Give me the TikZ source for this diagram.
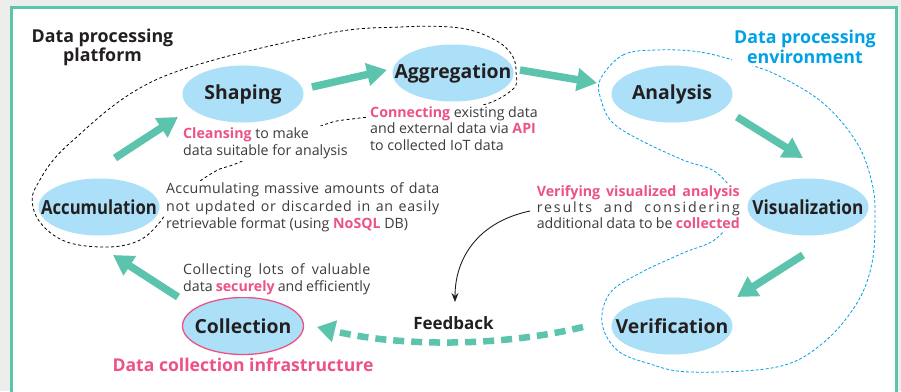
\documentclass[tikz,border=0pt]{standalone}
\usepackage{fontspec}
\usepackage{graphicx}
\setmainfont{Open Sans}
\usetikzlibrary{shapes.geometric,arrows.meta}
\definecolor{flowteal}{HTML}{5CC4AD}
\definecolor{bubblefill}{HTML}{ABE0F8}
\definecolor{hotpink}{HTML}{EC5285}
\definecolor{envcyan}{HTML}{00A0E6}
\definecolor{inkdark}{HTML}{231F20}
\definecolor{notegray}{HTML}{3C3C3C}
\definecolor{pagegray}{HTML}{EDEDEB}
\newcommand\pk[1]{{\color{hotpink}\bfseries #1}}
\newcommand\bubtext[1]{\makebox[0pt]{#1}}
\newcommand\spacedline[3]{\makebox[#1][s]{\addfontfeature{LetterSpace=#2}#3}}
\begin{document}
\begin{tikzpicture}[x=1pt,y=-1pt,
 bubble/.style={ellipse, fill=bubblefill, minimum width=121pt, minimum height=57pt, inner sep=0pt, text=inkdark, font=\bfseries\fontsize{19.4}{22}\selectfont},
 flow/.style={draw=flowteal, line width=7.5pt, -{Triangle[length=20pt,width=22pt]}},
 note/.style={fill=white, inner sep=2pt, text=notegray, font=\fontsize{14.2}{17}\selectfont, align=left},
 title/.style={text=inkdark, font=\bfseries\fontsize{17.8}{19.5}\selectfont, align=center},
 platline/.style={draw=black, line width=0.8pt, dash pattern=on 3pt off 2.5pt},
 envline/.style={draw=envcyan, line width=0.8pt, dash pattern=on 3pt off 2pt},
]
\useasboundingbox (0,0) rectangle (901,391);
\clip (0,0) rectangle (901,391);
\fill[pagegray] (0,0) rectangle (901,391);
\draw[draw=flowteal, line width=3.3pt, fill=white] (11.7,7.5) rectangle (896.2,430);

% dashed group outlines
\draw[platline] plot[smooth cycle, tension=0.6] coordinates {
 (512,90) (470,108) (360,118) (318,127) (240,162) (214,172) (175,200) (160,222)
 (140,240) (110,247) (70,243) (45,228) (33,207) (37,185) (70,143) (160,78)
 (320,35) (400,27) (460,28) (495,40) (512,55) (516,72)};
\draw[envline] plot[smooth cycle, tension=0.6] coordinates {
 (600,80) (623,55) (657,50) (700,52) (743,63) (777,75) (823,103) (857,143)
 (872,183) (875,217) (872,263) (857,303) (823,343) (777,367) (690,372)
 (647,363) (617,350) (602,323) (610,293) (640,273) (683,253) (717,238)
 (738,205) (717,173) (683,160) (640,140) (613,123) (602,103)};

% titles
\node[title] (ptitle) at (102.5,47.5) {Data processing\\platform};
\node[title, text=envcyan, fill=white, inner sep=2pt] (etitle) at (805,47) {Data processing\\environment};
\node[title, text=hotpink, font=\bfseries\fontsize{17.6}{19.5}\selectfont] (ctitle) at (243,365) {Data collection infrastructure};

% process nodes
\node[bubble] (acc) at (99,207) {\bubtext{\scalebox{0.86}[1]{Accumulation}}};
\node[bubble] (shp) at (243,94) {\bubtext{Shaping}};
\node[bubble] (agg) at (453,73) {\bubtext{Aggregation}};
\node[bubble] (ana) at (672,94) {\bubtext{Analysis}};
\node[bubble] (vis) at (808,207) {\bubtext{\scalebox{0.89}[1]{Visualization}}};
\node[bubble] (ver) at (672,326) {\bubtext{Verification}};
\node[bubble, draw=hotpink, line width=1.3pt] (col) at (243,326) {\bubtext{Collection}};

% notes
\node[note, anchor=west] (ncl) at (181,143.5) {\pk{Cleansing} to make\\data suitable for analysis};
\node[note, anchor=west, font=\fontsize{14.2}{16.5}\selectfont] (ncn) at (368,128.5) {\pk{Connecting} existing data\\and external data via \pk{API}\\to collected IoT data};
\node[note, anchor=west, font=\fontsize{14.2}{17.5}\selectfont] (nac) at (164,207.5) {\spacedline{273pt}{2}{Accumulating massive amounts of data}\\\spacedline{273pt}{5}{not updated or discarded in an easily}\\retrievable format (using \pk{NoSQL} DB)};
\node[note, anchor=west] (nco) at (181,279.5) {\spacedline{187pt}{3}{Collecting lots of valuable}\\\makebox[187pt][s]{data \pk{securely} and efficiently}};
\node[note, anchor=east, font=\fontsize{14.2}{16}\selectfont] (nve) at (742,207) {\makebox[203pt][s]{\pk{Verifying visualized analysis}}\\\spacedline{203pt}{13}{results and considering}\\\makebox[203pt][s]{additional data to be \pk{collected}}};
\node[text=inkdark, font=\bfseries\fontsize{17}{19}\selectfont] (fbl) at (453.5,323) {Feedback};

% connector end points
\coordinate (a1s) at (115,158); \coordinate (a1e) at (178,117);
\coordinate (a2s) at (312,87);  \coordinate (a2e) at (387,70);
\coordinate (a3s) at (520,70);  \coordinate (a3e) at (597,83);
\coordinate (a4s) at (737,117); \coordinate (a4e) at (803,158);
\coordinate (a5s) at (803,255); \coordinate (a5e) at (737,297);
\coordinate (a6s) at (178,297); \coordinate (a6e) at (113,255);
\coordinate (fbs) at (583,327); \coordinate (fbe) at (317,327);
\coordinate (ths) at (530,211); \coordinate (the) at (455,302);

\draw[flow] (a1s) -- (a1e);
\draw[flow] (a2s) -- (a2e);
\draw[flow] (a3s) -- (a3e);
\draw[flow] (a4s) -- (a4e);
\draw[flow] (a5s) -- (a5e);
\draw[flow] (a6s) -- (a6e);
\draw[draw=flowteal, line width=6.5pt, dash pattern=on 11pt off 7pt, -{Triangle[length=18pt,width=21pt]}] (fbs) .. controls (500,347) and (400,347) .. (fbe);
\draw[line width=0.9pt, inkdark, -{Stealth[length=9pt,width=7pt]}] (ths) .. controls (478,222) and (455,258) .. (the);
\end{tikzpicture}
\end{document}
